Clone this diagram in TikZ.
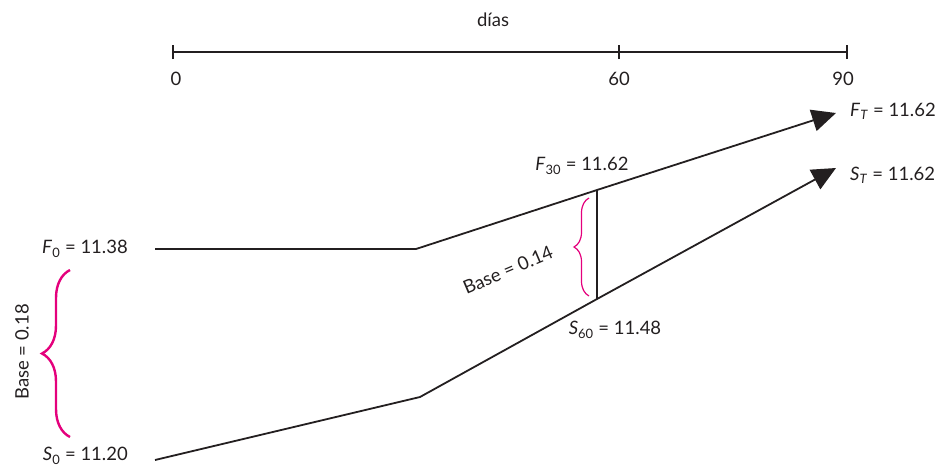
\documentclass[tikz,border=0pt]{standalone}
\usepackage{fontspec}
\setmainfont{Lato}
\usetikzlibrary{arrows.meta,decorations.pathreplacing}
\definecolor{mag}{RGB}{228,0,124}
\definecolor{ink}{RGB}{35,31,32}
\tikzset{
  lbl/.style={font=\fontsize{18.5}{22}\selectfont, text=ink, inner sep=0pt},
  ln/.style={draw=ink, line width=1.8pt},
  arr/.style={ln, -{Triangle[length=24pt,width=22pt]}},
  brc/.style={draw=mag, decorate, decoration={brace, amplitude=#1}},
}
\begin{document}
\begin{tikzpicture}[x=1pt,y=-1pt]
\useasboundingbox (0,0) rectangle (949,466);
% timeline
\coordinate (t0) at (173,52);
\coordinate (t60) at (619,52);
\coordinate (t90) at (847,52);
\draw[draw=ink, line width=1.4pt] (t0) -- (t90);
\foreach \c in {t0,t60,t90} \draw[draw=ink, line width=1.4pt] ([yshift=-7pt]\c) -- ([yshift=7pt]\c);
\node[lbl] (dias) at (493,20) {días};
\node[lbl] (l0) at (176,79) {0};
\node[lbl] (l60) at (619,79) {60};
\node[lbl] (l90) at (843,79) {90};
% F path
\coordinate (f0) at (155,249);
\coordinate (f1) at (416,249);
\coordinate (f30) at (597,190);
\coordinate (fT) at (836,113);
\draw[arr] (f0) -- (f1) -- (f30) -- (fT);
% S path
\coordinate (s0) at (155,460);
\coordinate (s1) at (420,397);
\coordinate (s60) at (597,299);
\coordinate (sT) at (836,168);
\draw[arr] (s0) -- (s1) -- (s60) -- (sT);
% vertical basis
\draw[draw=ink, line width=1.3pt] (f30) -- (s60);
% labels
\node[lbl, anchor=east] (F0) at (128,249) {\textit{F}\textsubscript{0} = 11.38};
\node[lbl, anchor=east] (S0) at (128,456) {\textit{S}\textsubscript{0} = 11.20};
\node[lbl] (F30) at (582,166) {\textit{F}\textsubscript{30} = 11.62};
\node[lbl] (S60) at (615,330) {\textit{S}\textsubscript{60} = 11.48};
\node[lbl, anchor=west] (FT) at (850,111) {\textit{F}\textsubscript{\textit{T}} = 11.62};
\node[lbl, anchor=west] (ST) at (850,175) {\textit{S}\textsubscript{\textit{T}} = 11.62};
% braces
\coordinate (b1t) at (70,270);
\coordinate (b1b) at (70,437);
\draw[brc=28pt, line width=2.4pt] (b1b) -- (b1t);
\node[lbl, rotate=90] (B18) at (22,352) {Base = 0.18};
\coordinate (b2t) at (589,198);
\coordinate (b2b) at (589,296);
\draw[brc=15pt, line width=1.2pt] (b2b) -- (b2t);
\node[lbl, rotate=23] (B14) at (508,270) {Base = 0.14};
\end{tikzpicture}
\end{document}
